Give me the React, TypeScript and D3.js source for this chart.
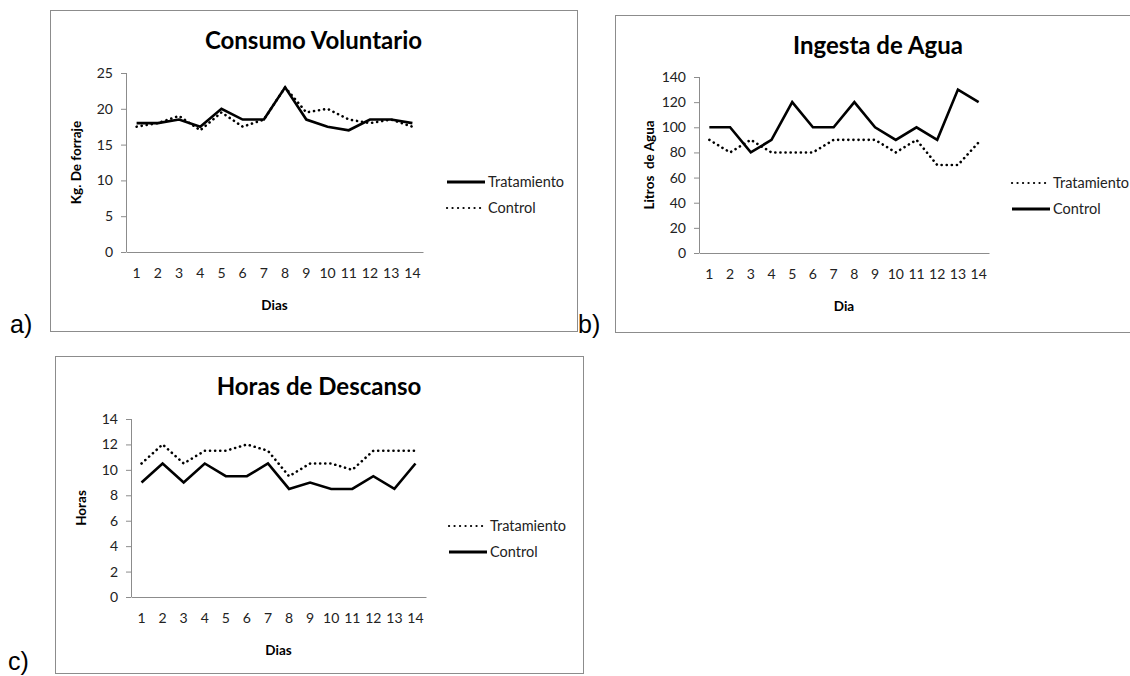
import * as d3 from "d3";
import { useRef, useEffect } from "react";

// days on the x axis
const days = ["1", "2", "3", "4", "5", "6", "7", "8", "9", "10", "11", "12", "13", "14"];

// a) Consumo Voluntario (kg)
const consumoTratamiento = [18, 18, 18.5, 17.5, 20, 18.5, 18.5, 23, 18.5, 17.5, 17, 18.5, 18.5, 18];
const consumoControl = [17.5, 18, 19, 17, 19.5, 17.5, 18.5, 23, 19.5, 20, 18.5, 18, 18.5, 17.5];

// b) Ingesta de Agua (litros)
const aguaTratamiento = [90, 80, 90, 80, 80, 80, 90, 90, 90, 80, 90, 70, 70, 88];
const aguaControl = [100, 100, 80, 90, 120, 100, 100, 120, 100, 90, 100, 90, 130, 120];

// c) Horas de Descanso
const descansoTratamiento = [10.5, 12, 10.5, 11.5, 11.5, 12, 11.5, 9.5, 10.5, 10.5, 10, 11.5, 11.5, 11.5];
const descansoControl = [9, 10.5, 9, 10.5, 9.5, 9.5, 10.5, 8.5, 9, 8.5, 8.5, 9.5, 8.5, 10.5];

const FONT = "Lato, 'Open Sans', sans-serif";
const DOTS = "0.1 5";

function Chart({ frame, plot, yMax, yStep, title, yLabel, xLabel, series, legend }) {
  const gx = useRef(null);
  const gy = useRef(null);

  const x = d3.scaleBand().domain(days).range([plot.left, plot.right]);
  const y = d3.scaleLinear().domain([0, yMax]).range([plot.bottom, plot.top]);

  const line = d3.line()
    .x((d, i) => x(days[i]) + x.bandwidth() / 2)
    .y(d => y(d));

  useEffect(() => {
    const g = d3.select(gy.current);
    g.call(d3.axisLeft(y).tickValues(d3.range(0, yMax + 0.001, yStep)).tickSize(5).tickPadding(8));
    g.select(".domain").attr("stroke", "#8c8c8c").attr("d", `M0.5,${plot.top}V${plot.bottom}`);
    g.selectAll(".tick line").attr("stroke", "#8c8c8c");
    g.selectAll(".tick text").attr("fill", "#222").style("font", `14px ${FONT}`);
  }, []);

  useEffect(() => {
    const g = d3.select(gx.current);
    g.call(d3.axisBottom(x).tickSize(0).tickPadding(16));
    g.select(".domain").attr("stroke", "#8c8c8c");
    g.selectAll(".tick text").attr("fill", "#222").style("font", `14px ${FONT}`);
  }, []);

  const midY = (plot.top + plot.bottom) / 2;
  const midX = (plot.left + plot.right) / 2;

  return (
    <g>
      <rect x={frame.left + 0.5} y={frame.top + 0.5} width={frame.right - frame.left} height={frame.bottom - frame.top}
        fill="white" stroke="#8c8c8c" strokeWidth={1} />
      <text x={(frame.left + frame.right) / 2} y={frame.top + 39} textAnchor="middle"
        style={{ font: `bold 24px ${FONT}` }} fill="#000">{title}</text>
      <g ref={gy} transform={`translate(${plot.left},0)`} />
      <g ref={gx} transform={`translate(0,${plot.bottom})`} />
      <text transform={`translate(${plot.left - 45},${midY}) rotate(-90)`} textAnchor="middle"
        style={{ font: `bold 13.5px ${FONT}`, whiteSpace: "pre" }} fill="#000">{yLabel}</text>
      <text x={midX} y={plot.bottom + 58} textAnchor="middle"
        style={{ font: `bold 13.5px ${FONT}` }} fill="#000">{xLabel}</text>
      {series.map(s => (
        <path key={s.name} d={line(s.values)} fill="none" stroke="#000"
          strokeWidth={2.6} strokeLinecap={s.dotted ? "round" : "butt"}
          strokeLinejoin="miter" strokeDasharray={s.dotted ? DOTS : null} />
      ))}
      {series.map((s, i) => (
        <g key={s.name} transform={`translate(${legend.x},${legend.y + i * 26})`}>
          <line x1={0} x2={38} y1={0} y2={0} stroke="#000" strokeWidth={s.dotted ? 2.2 : 3}
            strokeLinecap={s.dotted ? "round" : "butt"} strokeDasharray={s.dotted ? "0.1 5.4" : null} />
          <text x={41} y={0} dy="0.35em" style={{ font: `14.5px ${FONT}` }} fill="#222">{s.name}</text>
        </g>
      ))}
    </g>
  );
}

export default function App() {
  return (
    <svg width={1130} height={676} style={{ position: "absolute", left: 0, top: 0, background: "white" }}>
      <Chart
        frame={{ left: 50, top: 10, right: 577, bottom: 331 }}
        plot={{ left: 126, right: 423, top: 73, bottom: 252 }}
        yMax={25} yStep={5}
        title="Consumo Voluntario" yLabel="Kg. De forraje" xLabel="Dias"
        series={[
          { name: "Tratamiento", values: consumoTratamiento, dotted: false },
          { name: "Control", values: consumoControl, dotted: true },
        ]}
        legend={{ x: 447, y: 182 }}
      />
      <Chart
        frame={{ left: 615, top: 15, right: 1141, bottom: 332 }}
        plot={{ left: 699, right: 989, top: 77, bottom: 253 }}
        yMax={140} yStep={20}
        title="Ingesta de Agua" yLabel="Litros  de Agua" xLabel="Dia"
        series={[
          { name: "Tratamiento", values: aguaTratamiento, dotted: true },
          { name: "Control", values: aguaControl, dotted: false },
        ]}
        legend={{ x: 1012, y: 183 }}
      />
      <Chart
        frame={{ left: 55, top: 356, right: 583, bottom: 673 }}
        plot={{ left: 131, right: 426, top: 419, bottom: 597 }}
        yMax={14} yStep={2}
        title="Horas de Descanso" yLabel="Horas" xLabel="Dias"
        series={[
          { name: "Tratamiento", values: descansoTratamiento, dotted: true },
          { name: "Control", values: descansoControl, dotted: false },
        ]}
        legend={{ x: 449, y: 526 }}
      />
      <g style={{ font: `25px 'Liberation Sans', Arial, sans-serif` }} fill="#000">
        <text x={10} y={333}>a)</text>
        <text x={578} y={333}>b)</text>
        <text x={8} y={670}>c)</text>
      </g>
    </svg>
  );
}
